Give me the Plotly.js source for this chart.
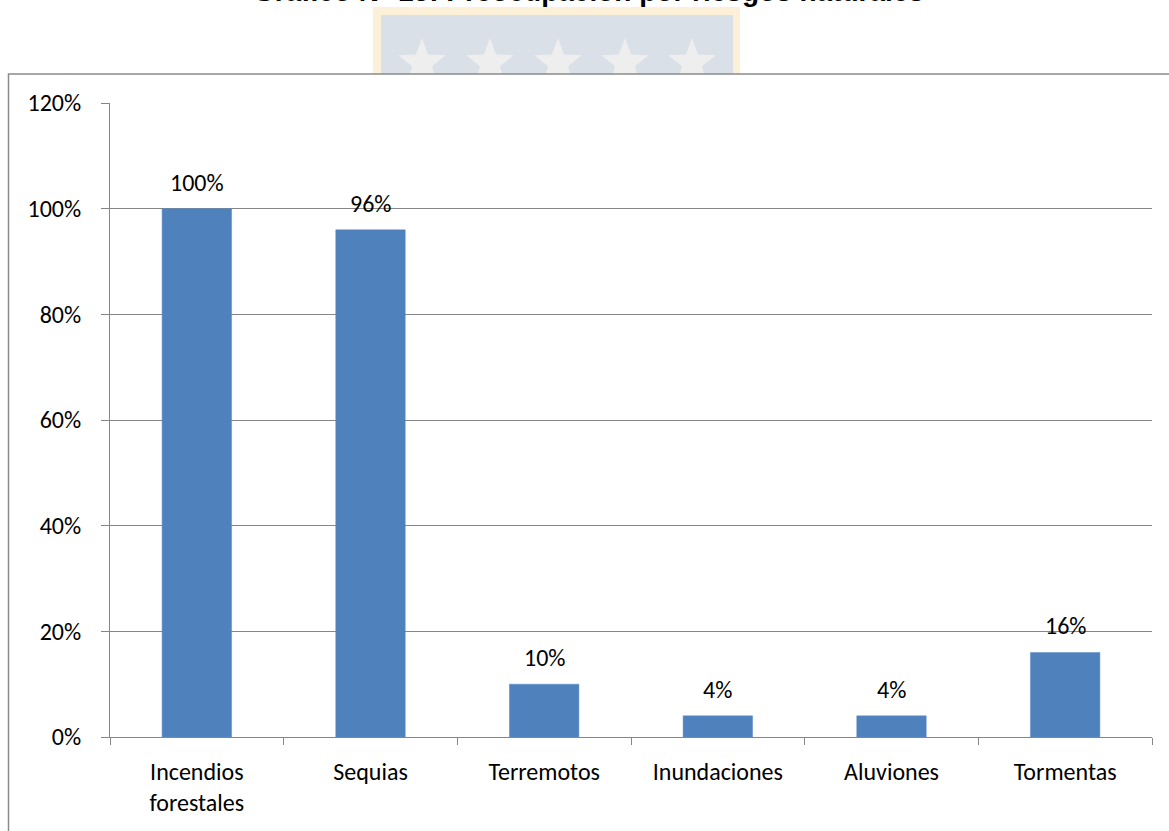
<!DOCTYPE html>
<html>
<head>
<meta charset="utf-8">
<script src="https://cdn.plot.ly/plotly-3.0.1.min.js"></script>
<style>
  html, body { margin: 0; padding: 0; background: #ffffff; }
  #chart { width: 1169px; height: 831px; }
</style>
</head>
<body>
<div id="chart"></div>
<script>
// ---- Data ----
const categories = ["Incendios<br>forestales", "Sequias", "Terremotos", "Inundaciones", "Aluviones", "Tormentas"];
const values = [1.00, 0.96, 0.10, 0.04, 0.04, 0.16];
const valueLabels = ["100%", "96%", "10%", "4%", "4%", "16%"];
const yTickVals = [0, 0.2, 0.4, 0.6, 0.8, 1.0, 1.2];
const yTickText = ["0%", "20%", "40%", "60%", "80%", "100%", "120%"];
const chartTitle = "Gráfico N° 15: Preocupación por riesgos naturales";

// ---- Layout geometry (pixels) ----
const W = 1169, H = 831;
const M = { l: 110, r: 17, t: 103, b: 94 };
const plotW = W - M.l - M.r, plotH = H - M.t - M.b;
const px = x => (x - M.l) / plotW;          // pixel x -> paper x
const py = y => (H - M.b - y) / plotH;      // pixel y -> paper y

const FONT = "Carlito, Calibri, Lato, sans-serif";
const FS = 24;
const GRID = "#868686";

// decorative watermark stars (background decoration, not data)
function starPath(cx, cy, R, r) {
  let d = "";
  for (let i = 0; i < 10; i++) {
    const ang = -Math.PI / 2 + i * Math.PI / 5;
    const rad = i % 2 === 0 ? R : r;
    const x = px(cx + rad * Math.cos(ang));
    const y = py(cy + rad * Math.sin(ang));
    d += (i === 0 ? "M" : "L") + x.toFixed(5) + "," + y.toFixed(5);
  }
  return d + "Z";
}

const shapes = [
  { type: "rect", xref: "paper", yref: "paper", layer: "below",
    x0: px(373), x1: px(740), y0: py(7), y1: py(90),
    fillcolor: "#fdf0d9", line: { width: 0 } },
  { type: "rect", xref: "paper", yref: "paper", layer: "below",
    x0: px(381), x1: px(733), y0: py(15), y1: py(90),
    fillcolor: "#d9e0e8", line: { width: 0 } }
];
[422, 490, 558, 625, 692].forEach(cx => {
  shapes.push({ type: "path", xref: "paper", yref: "paper", layer: "below",
    path: starPath(cx, 63, 25, 10.5), fillcolor: "#eeeeee", line: { width: 0 } });
});
shapes.push({ type: "rect", xref: "paper", yref: "paper", layer: "below",
  x0: px(360), x1: px(760), y0: py(74), y1: py(98),
  fillcolor: "#ffffff", line: { width: 0 } });
shapes.push({ type: "rect", xref: "paper", yref: "paper", layer: "below",
  x0: px(8.5), x1: px(1200), y0: py(74), y1: py(860),
  fillcolor: "rgba(0,0,0,0)", line: { color: "#8a8a8a", width: 1.5 } });

const annotations = categories.map((c, i) => ({
  x: c, y: values[i], xref: "x", yref: "y",
  text: valueLabels[i], showarrow: false, yanchor: "bottom", yshift: 10,
  font: { family: FONT, size: FS, color: "#000000" }
}));
annotations.push({
  xref: "paper", yref: "paper", x: px(588), y: py(9.5),
  xanchor: "center", yanchor: "bottom", showarrow: false,
  text: "<b>" + chartTitle + "</b>",
  font: { family: "Liberation Sans, Arial, sans-serif", size: 28, color: "#000000" }
});

const trace = {
  type: "bar",
  x: categories,
  y: values,
  width: 0.4,
  marker: { color: "#4f81bd", line: { color: "#5a8ac6", width: 0.5 } },
  hoverinfo: "skip"
};

const layout = {
  width: W, height: H,
  margin: M,
  paper_bgcolor: "#ffffff",
  plot_bgcolor: "rgba(0,0,0,0)",
  showlegend: false,
  font: { family: FONT, size: FS, color: "#000000" },
  xaxis: {
    type: "category",
    showline: true, linecolor: GRID, linewidth: 1,
    ticks: "outside", tickson: "boundaries", ticklen: 7, tickcolor: GRID, tickwidth: 1,
    showgrid: false, zeroline: false,
    tickfont: { family: FONT, size: FS, color: "#000000" },
    ticklabelstandoff: 13
  },
  yaxis: {
    range: [0, 1.2],
    tickvals: yTickVals, ticktext: yTickText,
    showline: true, linecolor: GRID, linewidth: 1,
    ticks: "outside", ticklen: 8, tickcolor: GRID, tickwidth: 1,
    showgrid: true, gridcolor: GRID, gridwidth: 1,
    zeroline: false,
    tickfont: { family: FONT, size: FS, color: "#000000" },
    ticklabelstandoff: 15
  },
  shapes: shapes,
  annotations: annotations
};

Plotly.newPlot("chart", [trace], layout, { displayModeBar: false, staticPlot: true });
</script>
</body>
</html>
